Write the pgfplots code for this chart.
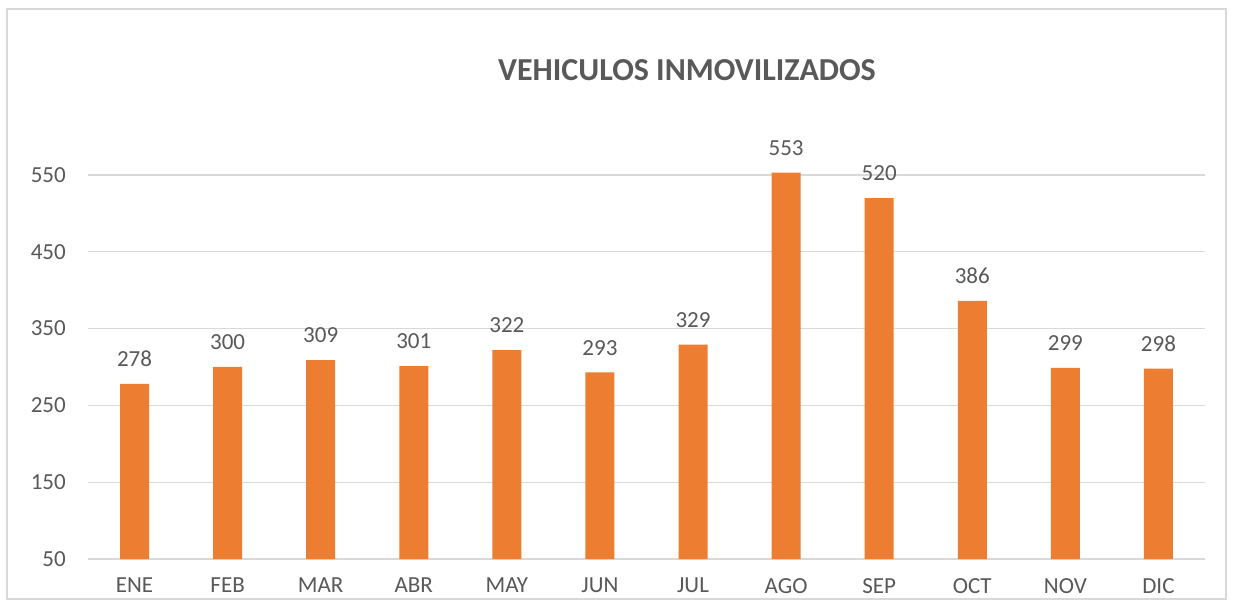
\documentclass[border=0pt]{standalone}
\usepackage{pgfplots}
\pgfplotsset{compat=1.18}
\usepackage{fontspec}
\setmainfont{Carlito}
\definecolor{barorange}{HTML}{ED7D31}
\definecolor{txtgray}{HTML}{595959}
\definecolor{gridgray}{HTML}{D9D9D9}

\begin{document}
\begin{tikzpicture}
\useasboundingbox (0,0) rectangle (1233bp,600bp);
\fill[white] (0,0) rectangle (1233bp,600bp);
\draw[gridgray, line width=1.5bp] (7bp,1bp) rectangle (1226bp,591bp);
\node[font=\bfseries\fontsize{32bp}{38bp}\selectfont, text=txtgray] at (687bp,530bp) {VEHICULOS INMOVILIZADOS};
\begin{axis}[
    at={(88bp,41bp)}, anchor=south west,
    scale only axis,
    width=1117bp, height=422.4bp,
    xmin=-0.5, xmax=11.5,
    ymin=50, ymax=600,
    ytick={50,150,250,350,450,550},
    xtick={0,...,11},
    xticklabels={ENE,FEB,MAR,ABR,MAY,JUN,JUL,AGO,SEP,OCT,NOV,DIC},
    axis line style={draw=none},
    axis x line*=bottom,
    ymajorgrids,
    grid style={gridgray, line width=1.2bp},
    major tick length=0pt,
    tick label style={font=\fontsize{23bp}{28bp}\selectfont, text=txtgray},
    /pgf/number format/assume math mode=true,
    yticklabel style={anchor=east, inner sep=0pt, xshift=-22bp},
    xticklabel style={anchor=north, inner sep=0pt, yshift=-19bp},
    nodes near coords,
    every node near coord/.append style={font=\fontsize{23bp}{28bp}\selectfont, text=txtgray, anchor=south, inner sep=0pt, yshift=17bp},
    clip=false,
]
\addplot[ybar, bar width=29bp, fill=barorange, draw=none] coordinates {
    (0,278) (1,300) (2,309) (3,301) (4,322) (5,293)
    (6,329) (7,553) (8,520) (9,386) (10,299) (11,298)
};
\end{axis}
\end{tikzpicture}
\end{document}
